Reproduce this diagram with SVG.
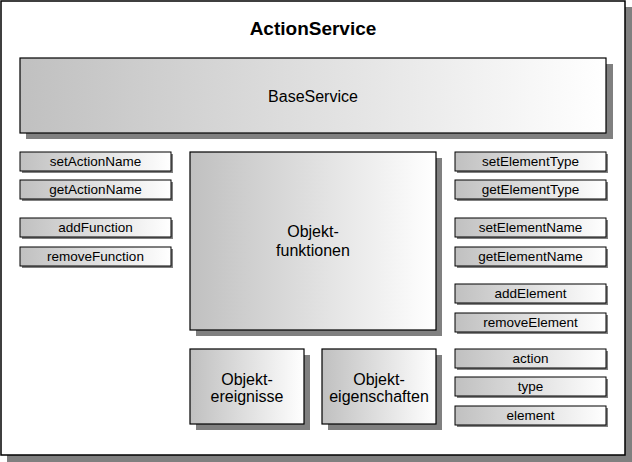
<svg xmlns="http://www.w3.org/2000/svg" width="632" height="462" viewBox="0 0 632 462">
<defs>
<linearGradient id="g" x1="0" y1="0" x2="1" y2="0">
<stop offset="0" stop-color="#c0c0c0"/>
<stop offset="1" stop-color="#ffffff"/>
</linearGradient>
</defs>
<style>
.sh{fill:#808080}
.box{fill:url(#g);stroke:#000;stroke-width:1}
.big{fill:url(#g);stroke:#000;stroke-width:1.2}
text{font-family:"Liberation Sans",Arial,sans-serif;fill:#000;text-anchor:middle}
.s{font-size:13.5px}
.m{font-size:16px}
.t{font-size:19px;font-weight:bold}
</style>
<g id="frame">
<rect class="sh" x="7" y="7" width="625" height="455"/>
<rect x="1" y="1" width="624" height="454" fill="#fff" stroke="#000" stroke-width="1.5"/>
<text class="t" x="313" y="35">ActionService</text>
</g>
<g id="BaseService">
<rect class="sh" x="26" y="64" width="587" height="75"/>
<rect class="big" x="20" y="58" width="586" height="75"/>
<text class="m" x="313" y="102">BaseService</text>
</g>
<g id="Objektfunktionen">
<rect class="sh" x="196" y="158" width="246" height="178"/>
<rect class="big" x="190" y="152" width="246" height="178"/>
<text class="m" x="313" y="237">Objekt-</text>
<text class="m" x="313" y="256">funktionen</text>
</g>
<g id="Objektereignisse">
<rect class="sh" x="196" y="355" width="114" height="75"/>
<rect class="big" x="190" y="349" width="114" height="75"/>
<text class="m" x="247" y="385">Objekt-</text>
<text class="m" x="247" y="402">ereignisse</text>
</g>
<g id="Objekteigenschaften">
<rect class="sh" x="328" y="355" width="114" height="75"/>
<rect class="big" x="322" y="349" width="114" height="75"/>
<text class="m" x="379" y="385">Objekt-</text>
<text class="m" x="379" y="402">eigenschaften</text>
</g>
<g id="setActionName"><rect class="sh" x="22" y="154" width="151" height="19"/><rect class="box" x="20" y="152" width="151" height="19"/><text class="s" x="95.5" y="166">setActionName</text></g>
<g id="getActionName"><rect class="sh" x="22" y="182" width="151" height="19"/><rect class="box" x="20" y="180" width="151" height="19"/><text class="s" x="95.5" y="194">getActionName</text></g>
<g id="addFunction"><rect class="sh" x="22" y="220" width="151" height="19"/><rect class="box" x="20" y="218" width="151" height="19"/><text class="s" x="95.5" y="232">addFunction</text></g>
<g id="removeFunction"><rect class="sh" x="22" y="249" width="151" height="19"/><rect class="box" x="20" y="247" width="151" height="19"/><text class="s" x="95.5" y="261">removeFunction</text></g>
<g id="setElementType"><rect class="sh" x="457" y="154" width="151" height="19"/><rect class="box" x="455" y="152" width="151" height="19"/><text class="s" x="530.5" y="166">setElementType</text></g>
<g id="getElementType"><rect class="sh" x="457" y="182" width="151" height="19"/><rect class="box" x="455" y="180" width="151" height="19"/><text class="s" x="530.5" y="194">getElementType</text></g>
<g id="setElementName"><rect class="sh" x="457" y="220" width="151" height="19"/><rect class="box" x="455" y="218" width="151" height="19"/><text class="s" x="530.5" y="232">setElementName</text></g>
<g id="getElementName"><rect class="sh" x="457" y="249" width="151" height="19"/><rect class="box" x="455" y="247" width="151" height="19"/><text class="s" x="530.5" y="261">getElementName</text></g>
<g id="addElement"><rect class="sh" x="457" y="286" width="151" height="19"/><rect class="box" x="455" y="284" width="151" height="19"/><text class="s" x="530.5" y="298">addElement</text></g>
<g id="removeElement"><rect class="sh" x="457" y="315" width="151" height="19"/><rect class="box" x="455" y="313" width="151" height="19"/><text class="s" x="530.5" y="327">removeElement</text></g>
<g id="action"><rect class="sh" x="457" y="351" width="151" height="19"/><rect class="box" x="455" y="349" width="151" height="19"/><text class="s" x="530.5" y="363">action</text></g>
<g id="type"><rect class="sh" x="457" y="379" width="151" height="19"/><rect class="box" x="455" y="377" width="151" height="19"/><text class="s" x="530.5" y="391">type</text></g>
<g id="element"><rect class="sh" x="457" y="408" width="151" height="19"/><rect class="box" x="455" y="406" width="151" height="19"/><text class="s" x="530.5" y="420">element</text></g>
<g id="connectors"/>
</svg>
